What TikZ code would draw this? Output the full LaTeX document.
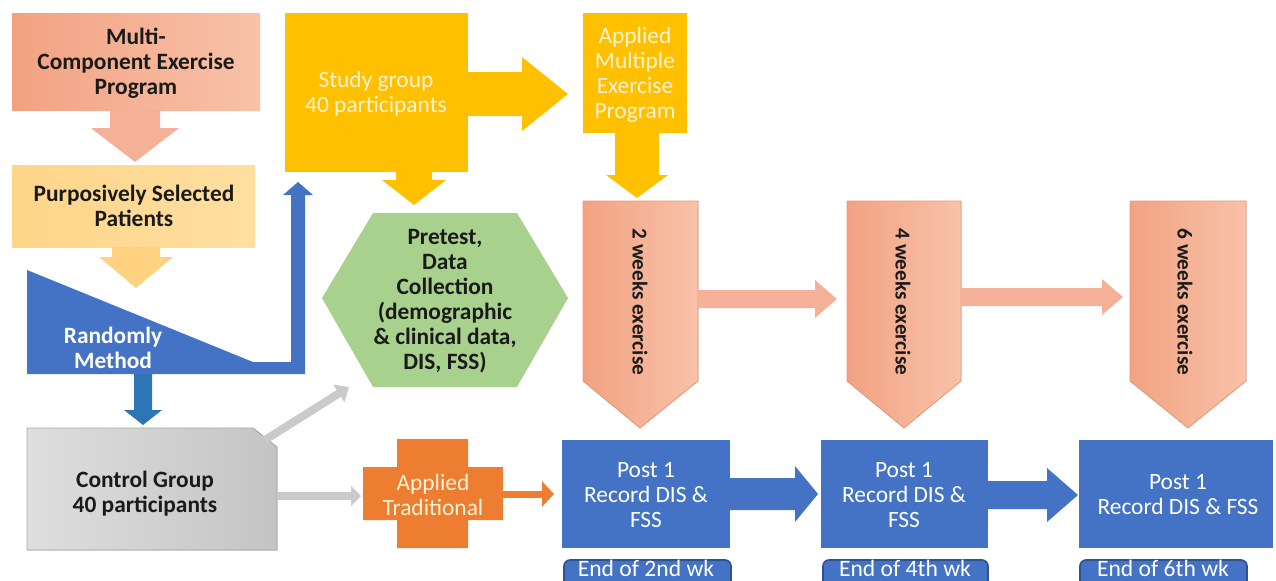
\documentclass[tikz,border=0pt]{standalone}
\usepackage{fontspec}
\setmainfont{Carlito}
\usetikzlibrary{arrows.meta}
\definecolor{salmonL}{HTML}{F2A282}
\definecolor{salmonR}{HTML}{F8C2A9}
\definecolor{salmonA}{HTML}{F5B197}
\definecolor{peachL}{HTML}{FFD589}
\definecolor{peachR}{HTML}{FFDFA0}
\definecolor{peachA}{HTML}{FFD27F}
\definecolor{gold}{HTML}{FFC000}
\definecolor{cream}{HTML}{FFF3D6}
\definecolor{blueA}{HTML}{4472C4}
\definecolor{blueB}{HTML}{2E75B6}
\definecolor{blueD}{HTML}{2F528F}
\definecolor{greenH}{HTML}{A9D18E}
\definecolor{orangeT}{HTML}{ED7D31}
\definecolor{grayL}{HTML}{DEDEDE}
\definecolor{grayD}{HTML}{C4C4C4}
\definecolor{grayA}{HTML}{CACACA}
\definecolor{txt}{HTML}{1A1A1A}
\definecolor{salmonE}{HTML}{E89A7C}
% down block arrow: style, cx, ytop, yhead, ytip, shaft half width, head half width
\newcommand{\dnArrow}[7]{\fill[#1] ({#2-#6},#3) -- ({#2+#6},#3) -- ({#2+#6},#4) -- ({#2+#7},#4) -- (#2,#5) -- ({#2-#7},#4) -- ({#2-#6},#4) -- cycle;}
% right block arrow: style, cy, xstart, xhead, xtip, shaft half height, head half height
\newcommand{\rtArrow}[7]{\fill[#1] (#3,{#2-#6}) -- (#4,{#2-#6}) -- (#4,{#2-#7}) -- (#5,#2) -- (#4,{#2+#7}) -- (#4,{#2+#6}) -- (#3,{#2+#6}) -- cycle;}
% pentagon: left x, right x, tip x
\newcommand{\pentShape}[3]{\fill[left color=salmonL,right color=salmonR] (#1,201) -- (#2,201) -- (#2,381) -- (#3,428) -- (#1,381) -- cycle;
\draw[salmonE, line width=0.4pt] (#1,201) -- (#2,201) -- (#2,381) -- (#3,428) -- (#1,381) -- cycle;}
\begin{document}
\begin{tikzpicture}[x=0.5pt,y=-0.5pt,
  lbl/.style={font=\fontsize{11.7}{12.5}\selectfont, align=center, inner sep=0pt},
  blbl/.style={font=\fontsize{11.7}{12.5}\selectfont\bfseries, align=center, inner sep=0pt, text=txt},
  wlbl/.style={lbl, text=white},
  clbl/.style={lbl, text=cream},
  wblbl/.style={blbl, text=white},
  vlbl/.style={font=\fontsize{10.6}{12}\selectfont\bfseries, inner sep=0pt, text=txt, rotate=-90},
  endlbl/.style={font=\fontsize{11.8}{13}\selectfont, text=white, inner sep=0pt, anchor=base}
]
\useasboundingbox (0,0) rectangle (1276,580);
\clip (0,0) rectangle (1276,580);

% ---------- left column ----------
\fill[left color=salmonL,right color=salmonR] (12,13) rectangle (260,110);
\node[blbl] (multi) at (136,63) {Multi-\\Component Exercise\\Program};
\dnArrow{salmonA}{135}{110}{128}{162}{25}{44}

\fill[left color=peachL,right color=peachR] (12,165) rectangle (255,247);
\node[blbl] (purp) at (134,206) {Purposively Selected\\Patients};
\dnArrow{peachA}{136}{247}{257}{288}{24}{37}

\fill[blueA] (27,270) -- (253,362) -- (291,362) -- (291,195) -- (283,195) -- (298,182) -- (313,195) -- (305,195) -- (305,374) -- (27,374) -- cycle;
\node[wblbl] (rand) at (113,348) {Randomly\\Method};
\dnArrow{blueB}{143}{374}{410}{425}{9}{19}

\fill[left color=grayL,right color=grayD] (27,428) -- (253,428) -- (277,447) -- (277,550) -- (27,550) -- cycle;
\draw[gray!70, line width=0.4pt] (27,428) -- (253,428) -- (277,447) -- (277,550) -- (27,550) -- cycle;
\node[blbl] (ctrl) at (145,494) {Control Group\\40 participants};
\coordinate (ctrlNE) at (265,440);
\coordinate (ctrlE) at (277,496);

% ---------- study group ----------
\fill[gold] (285,13) rectangle (468,172);
\node[clbl] (study) at (376,94) {Study group\\40 participants};
\rtArrow{gold}{94}{468}{522}{568}{22}{37}
\dnArrow{gold}{414}{172}{180}{205}{18}{32}

\fill[gold] (583,13) rectangle (687,133);
\node[clbl] (multiapp) at (635,75) {Applied\\Multiple\\Exercise\\Program};
\dnArrow{gold}{637}{133}{175}{198}{22}{31}

% ---------- pretest hexagon ----------
\fill[greenH] (322,298) -- (373,213) -- (517,213) -- (568,298) -- (517,387) -- (373,387) -- cycle;
\node[blbl] (pre) at (445,301) {Pretest,\\Data\\Collection\\(demographic\\\& clinical data,\\DIS, FSS)};
\coordinate (preSW) at (349,387);

\draw[grayA, line width=4pt, -{Triangle[width=10pt,length=6pt]}] (ctrlNE) -- (preSW);

% ---------- applied traditional ----------
\fill[orangeT] (397,439) -- (468,439) -- (468,467) -- (503,467) -- (503,520) -- (468,520) -- (468,548) -- (397,548) -- (397,520) -- (363,520) -- (363,467) -- (397,467) -- cycle;
\node[clbl] (trad) at (433,495) {Applied\\Traditional};
\coordinate (tradW) at (361,496);
\coordinate (tradE) at (503,494);
\draw[grayA, line width=4pt, -{Triangle[width=10pt,length=5pt]}] (ctrlE) -- (tradW);

% ---------- exercise pentagons ----------
\pentShape{583}{698}{640}
\node[vlbl] (w2) at (640,302) {2 weeks exercise};
\rtArrow{salmonA}{299}{698}{815}{837}{9}{19}
\pentShape{847}{961}{904}
\node[vlbl] (w4) at (903,302) {4 weeks exercise};
\rtArrow{salmonA}{297}{961}{1102}{1123}{9}{18}
\pentShape{1130}{1246}{1188}
\node[vlbl] (w6) at (1185,302) {6 weeks exercise};

% ---------- post boxes ----------
\fill[blueA] (562,440) rectangle (730,548);
\node[wlbl] (p1) at (646,495) {Post 1\\Record DIS \&\\FSS};
\coordinate (p1W) at (554,494);
\draw[orangeT, line width=3.5pt, -{Triangle[width=12.5pt,length=6pt]}] (tradE) -- (p1W);
\rtArrow{blueA}{494}{730}{795}{818}{16}{28}

\fill[blueA] (821,440) rectangle (988,548);
\node[wlbl] (p2) at (904,495) {Post 1\\Record DIS \&\\FSS};
\rtArrow{blueA}{495}{988}{1047}{1078}{14}{27}

\fill[blueA] (1079,440) rectangle (1273,548);
\node[wlbl] (p3) at (1178,495) {Post 1\\Record DIS \& FSS};

% ---------- end labels ----------
\draw[fill=blueA, draw=blueD, line width=0.8pt, rounded corners=3pt] (564,560) rectangle (731,592);
\node[endlbl] (e1) at (646,576) {End of 2nd wk};
\draw[fill=blueA, draw=blueD, line width=0.8pt, rounded corners=3pt] (823,560) rectangle (988,592);
\node[endlbl] (e2) at (905,576) {End of 4th wk};
\draw[fill=blueA, draw=blueD, line width=0.8pt, rounded corners=3pt] (1080,560) rectangle (1247,592);
\node[endlbl] (e3) at (1163,576) {End of 6th wk};
\end{tikzpicture}
\end{document}
